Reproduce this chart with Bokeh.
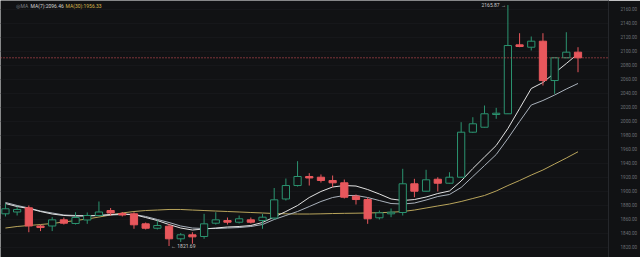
from bokeh.plotting import figure
from bokeh.models import Range1d, FixedTicker, Label, Span, NumeralTickFormatter, ColumnDataSource
from bokeh.embed import file_html
from bokeh.resources import INLINE

# ---- data ----
opens = [1867.7, 1870.3, 1876.3, 1850.3, 1850.3, 1859.1, 1853.9, 1858.9, 1865.3, 1872.4,
         1868.1, 1867.7, 1853.4, 1847.1, 1850.0, 1832.0, 1837.7, 1835.3, 1854.3, 1858.1,
         1855.7, 1859.1, 1858.1, 1861.7, 1888.9, 1908.1, 1921.0, 1920.0, 1915.3, 1912.0,
         1892.9, 1888.1, 1862.0, 1867.7, 1869.6, 1910.6, 1900.0, 1917.1, 1911.4, 1920.0,
         1984.3, 1991.4, 2009.6, 2010.6, 2109.1, 2105.7, 2114.3, 2058.1, 2090.6, 2098.6]
highs = [1882.4, 1878.1, 1879.6, 1852.0, 1862.9, 1862.4, 1870.0, 1869.6, 1885.3, 1876.0,
         1870.3, 1870.0, 1855.3, 1858.1, 1853.4, 1840.3, 1841.4, 1867.7, 1870.0, 1862.4,
         1865.3, 1862.4, 1867.7, 1904.6, 1918.1, 1942.9, 1925.7, 1923.9, 1922.4, 1916.7,
         1895.3, 1891.0, 1872.4, 1875.3, 1932.0, 1917.7, 1930.6, 1920.0, 1927.1, 1998.6,
         2005.7, 2022.4, 2019.1, 2165.87, 2125.7, 2121.0, 2125.7, 2091.0, 2127.1, 2105.7]
lows = [1863.9, 1865.3, 1841.4, 1843.0, 1843.0, 1852.4, 1852.4, 1853.4, 1863.9, 1865.3,
        1863.9, 1846.3, 1845.3, 1845.3, 1821.69, 1827.4, 1824.9, 1832.0, 1852.4, 1852.4,
        1853.9, 1853.9, 1846.3, 1859.6, 1886.7, 1906.7, 1908.1, 1912.4, 1905.7, 1889.6,
        1881.0, 1853.4, 1859.6, 1862.9, 1865.3, 1891.4, 1899.6, 1899.6, 1911.0, 1919.6,
        1983.1, 1991.0, 2003.4, 2010.3, 2105.7, 2101.0, 2051.0, 2039.1, 2090.0, 2070.0]
closes = [1874.9, 1873.9, 1850.3, 1848.1, 1859.1, 1854.3, 1862.4, 1865.3, 1870.3, 1868.9,
          1866.0, 1852.0, 1847.1, 1851.0, 1832.0, 1837.7, 1834.8, 1853.4, 1859.1, 1855.7,
          1860.6, 1855.7, 1862.9, 1887.7, 1908.1, 1921.0, 1918.9, 1915.3, 1912.0, 1891.4,
          1888.1, 1860.6, 1869.1, 1870.0, 1910.6, 1900.0, 1916.3, 1911.4, 1920.0, 1984.3,
          1996.3, 2010.6, 2011.4, 2108.1, 2106.7, 2114.3, 2058.1, 2090.6, 2098.6, 2090.56]

ma7 = [1882.4, 1878.1, 1875.3, 1871.0, 1867.4, 1865.3, 1864.6, 1864.6, 1865.3, 1866.7,
       1867.4, 1866.7, 1862.4, 1858.1, 1852.4, 1847.4, 1844.6, 1846.0, 1847.4, 1848.9,
       1849.6, 1851.0, 1855.3, 1863.1, 1871.0, 1879.6, 1891.0, 1899.6, 1906.0, 1908.1,
       1907.4, 1902.4, 1896.0, 1888.9, 1886.7, 1888.1, 1891.7, 1896.7, 1900.3, 1914.6,
       1932.4, 1948.9, 1965.3, 1989.6, 2018.1, 2046.7, 2055.3, 2068.9, 2082.4, 2096.46]
ma_mid = [1883.9, 1879.6, 1876.0, 1871.7, 1868.9, 1866.0, 1865.3, 1865.3, 1865.3, 1866.0,
          1866.7, 1866.7, 1863.9, 1859.6, 1855.3, 1850.3, 1847.4, 1846.7, 1846.7, 1847.4,
          1848.1, 1849.6, 1852.4, 1859.6, 1865.3, 1871.0, 1878.1, 1885.3, 1891.0, 1893.9,
          1893.9, 1891.0, 1886.7, 1882.4, 1881.7, 1883.1, 1887.4, 1892.4, 1895.3, 1905.3,
          1921.0, 1936.7, 1952.4, 1975.3, 1999.6, 2023.1, 2029.6, 2037.4, 2046.0, 2053.9]
ma30 = [1847.4, 1849.6, 1851.0, 1852.4, 1853.9, 1856.0, 1858.1, 1860.3, 1863.1, 1866.0,
        1868.9, 1871.0, 1872.4, 1873.1, 1873.9, 1873.9, 1873.1, 1872.4, 1871.7, 1871.0,
        1870.3, 1869.6, 1868.9, 1868.1, 1867.7, 1867.4, 1867.4, 1867.7, 1868.1, 1868.4,
        1868.6, 1868.9, 1869.3, 1869.9, 1871.0, 1873.1, 1876.0, 1878.9, 1881.7, 1885.3,
        1889.6, 1893.9, 1900.3, 1908.1, 1915.3, 1923.1, 1930.3, 1938.9, 1947.4, 1956.33]

price_ticks = [1820, 1840, 1860, 1880, 1900, 1920, 1940, 1960, 1980, 2000,
               2020, 2040, 2060, 2080, 2100, 2120, 2140, 2160]
last_price = 2090.56
ma7_last = "MA(7):2096.46"
ma30_last = "MA(30):1956.33"
high_text = "2165.87 \u2192"
low_text = "\u2190 1821.69"
high_idx, low_idx = 43, 14

# ---- styling ----
BG = "#111214"
GREEN = "#2b9470"
RED = "#e8575c"
FONT = "Roboto"

idx = list(range(len(opens)))
up = [c >= o for o, c in zip(opens, closes)]
wick_colors = [GREEN if u else RED for u in up]

wicks = ColumnDataSource(dict(x=idx, lo=lows, hi=highs, c=wick_colors))
up_src = ColumnDataSource(dict(x=[i for i in idx if up[i]],
                               top=[closes[i] for i in idx if up[i]],
                               bot=[opens[i] for i in idx if up[i]]))
dn_src = ColumnDataSource(dict(x=[i for i in idx if not up[i]],
                               top=[opens[i] for i in idx if not up[i]],
                               bot=[closes[i] for i in idx if not up[i]]))

p = figure(width=640, height=257, output_backend="svg", toolbar_location=None,
           x_range=Range1d(-0.4237, 51.61), y_range=Range1d(1805.3, 2172.43),
           x_axis_location=None, y_axis_location="right",
           min_border_left=0, min_border_top=0, min_border_bottom=0, min_border_right=26)
p.background_fill_color = BG
p.border_fill_color = BG
p.outline_line_color = None
p.xgrid.grid_line_color = None
p.ygrid.grid_line_color = "#16171a"
p.ygrid.ticker = FixedTicker(ticks=price_ticks)

ax = p.yaxis[0]
ax.ticker = FixedTicker(ticks=price_ticks)
ax.formatter = NumeralTickFormatter(format="0.00")
ax.major_label_text_font_size = "4.6px"
ax.major_label_text_font = FONT
ax.major_label_text_color = "#6d7075"
ax.major_tick_line_color = None
ax.minor_tick_line_color = None
ax.axis_line_color = "#25272b"
ax.major_label_standoff = 6

# moving averages
p.line(idx, ma30, line_color="#b9a55c", line_width=1)
p.line(idx, ma_mid, line_color="#aab2bc", line_width=1)
p.line(idx, ma7, line_color="#e2e2e2", line_width=1)

# candles
p.segment(x0="x", y0="lo", x1="x", y1="hi", line_color="c", line_width=1, source=wicks)
p.vbar(x="x", width=0.62, top="top", bottom="bot", fill_color=BG, line_color=GREEN,
       line_width=1, source=up_src)
p.vbar(x="x", width=0.62, top="top", bottom="bot", fill_color=RED, line_color=RED,
       line_width=1, source=dn_src)

# last price line and badge
p.add_layout(Span(location=last_price, dimension="width", line_color=RED,
                  line_dash="1 2", line_width=1))
p.add_layout(Label(x=615, y=last_price, x_units="screen", y_units="data",
                   text=f"{last_price:.2f}", text_font=FONT, text_font_size="4.6px",
                   text_color="#ffffff", text_baseline="middle", text_align="left",
                   background_fill_color=RED, padding=2))

# high / low annotations
p.add_layout(Label(x=high_idx, y=highs[high_idx], x_offset=-2, text=high_text,
                   text_font=FONT, text_font_size="5px", text_color="#c9c9c9",
                   text_align="right", text_baseline="middle"))
p.add_layout(Label(x=low_idx, y=lows[low_idx], x_offset=2, text=low_text,
                   text_font=FONT, text_font_size="5px", text_color="#c9c9c9",
                   text_align="left", text_baseline="middle"))

# header legend
hy = 252
p.add_layout(Label(x=15, y=hy, x_units="screen", y_units="screen", text="\u25ce",
                   text_font=FONT, text_font_size="5px", text_color="#7d8086",
                   text_baseline="middle"))
p.add_layout(Label(x=20, y=hy, x_units="screen", y_units="screen", text="MA",
                   text_font=FONT, text_font_size="5px", text_color="#7d8086",
                   text_baseline="middle"))
p.add_layout(Label(x=30, y=hy, x_units="screen", y_units="screen", text=ma7_last,
                   text_font=FONT, text_font_size="5px", text_color="#d4d4d4",
                   text_baseline="middle"))
p.add_layout(Label(x=65, y=hy, x_units="screen", y_units="screen", text=ma30_last,
                   text_font=FONT, text_font_size="5px", text_color="#d9b84e",
                   text_baseline="middle"))

open("out.html", "w").write(file_html(p, INLINE))
